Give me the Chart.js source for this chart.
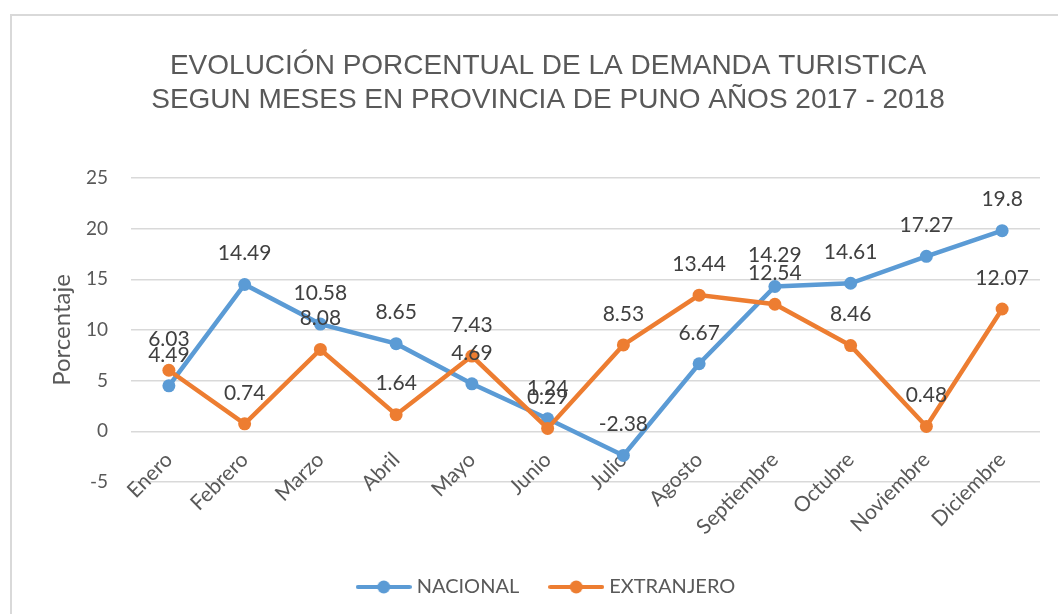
<!DOCTYPE html>
<html>
<head>
<meta charset="utf-8">
<script src="https://cdn.jsdelivr.net/npm/chart.js@4"></script>
<style>
  html, body { margin: 0; padding: 0; background: #fff; overflow: hidden; }
  #frame { position: absolute; left: 10px; top: 14px; width: 1200px; height: 800px; border: 2px solid #d9d9d9; }
  #wrap  { position: absolute; left: 0; top: 0; width: 1058px; height: 614px; }
</style>
</head>
<body>
<div id="frame"></div>
<div id="wrap"><canvas id="chart"></canvas></div>
<script>
// ── Data ───────────────────────────────────────────────────
const months = ["Enero", "Febrero", "Marzo", "Abril", "Mayo", "Junio", "Julio",
                "Agosto", "Septiembre", "Octubre", "Noviembre", "Diciembre"];
const nacional   = [4.49, 14.49, 10.58, 8.65, 4.69, 1.24, -2.38, 6.67, 14.29, 14.61, 17.27, 19.8];
const extranjero = [6.03, 0.74, 8.08, 1.64, 7.43, 0.29, 8.53, 13.44, 12.54, 8.46, 0.48, 12.07];

const BLUE   = "#5b9bd5";
const ORANGE = "#ed7d31";
const GREY   = "#595959";

// ── Legend marker: line with a dot ─────────────────────────
function legendMark(color) {
    const c = document.createElement("canvas");
    c.width = 56; c.height = 16;
    const g = c.getContext("2d");
    g.strokeStyle = color;
    g.lineWidth = 4;
    g.lineCap = "round";
    g.beginPath(); g.moveTo(2, 8); g.lineTo(54, 8); g.stroke();
    g.fillStyle = color;
    g.beginPath(); g.arc(28, 8, 6.5, 0, Math.PI * 2); g.fill();
    return c;
}
const marks = [legendMark(BLUE), legendMark(ORANGE)];

// ── Value labels above points ──────────────────────────────
const valueLabels = {
    id: "valueLabels",
    afterDatasetsDraw(chart) {
        const ctx = chart.ctx;
        ctx.save();
        ctx.font = "21px Lato";
        ctx.fillStyle = "#404040";
        ctx.textAlign = "center";
        ctx.textBaseline = "middle";
        chart.data.datasets.forEach((ds, i) => {
            chart.getDatasetMeta(i).data.forEach((pt, j) => {
                ctx.fillText(String(ds.data[j]), pt.x, pt.y - 31);
            });
        });
        ctx.restore();
    },
};

function series(label, data, color, order) {
    return {
        label, data, order,
        borderColor: color,
        backgroundColor: color,
        borderWidth: 4.5,
        tension: 0,
        pointRadius: 6.5,
        pointHoverRadius: 6.5,
        pointBorderWidth: 0,
        pointBackgroundColor: color,
    };
}

new Chart(document.getElementById("chart"), {
    type: "line",
    data: {
        labels: months,
        datasets: [
            series("NACIONAL", nacional, BLUE, 1),
            series("EXTRANJERO", extranjero, ORANGE, 0),
        ],
    },
    options: {
        responsive: true,
        maintainAspectRatio: false,
        animation: false,
        layout: { padding: { left: 56, right: 18, top: 0, bottom: 7 } },
        plugins: {
            title: {
                display: true,
                text: ["EVOLUCIÓN PORCENTUAL DE LA DEMANDA TURISTICA",
                       "SEGUN MESES EN PROVINCIA DE PUNO AÑOS 2017 - 2018"],
                color: GREY,
                font: { family: "'Liberation Sans', Arial", size: 28, weight: "normal", lineHeight: 1.214 },
                padding: { top: 49, bottom: 61 },
            },
            legend: {
                position: "bottom",
                labels: {
                    usePointStyle: true,
                    pointStyleWidth: 46,
                    padding: 34,
                    color: GREY,
                    font: { family: "Lato", size: 20 },
                    generateLabels: (chart) => chart.data.datasets.map((ds, i) => ({
                        text: ds.label,
                        pointStyle: marks[i],
                        fillStyle: ds.borderColor,
                        strokeStyle: ds.borderColor,
                        lineWidth: 0,
                        hidden: false,
                        datasetIndex: i,
                        fontColor: GREY,
                    })),
                },
            },
            tooltip: { enabled: false },
        },
        scales: {
            // category axis hangs from the zero line, like the original
            x: {
                position: { y: 0 },
                offset: true,
                grid: { display: false, drawTicks: false },
                border: { display: false },
                ticks: {
                    color: GREY,
                    font: { family: "Lato", size: 21 },
                    minRotation: 45,
                    maxRotation: 45,
                    padding: 16,
                    autoSkip: false,
                },
            },
            // empty spacer that keeps room for the labels above the legend
            xpad: {
                type: "category",
                position: "bottom",
                grid: { display: false, drawTicks: false },
                border: { display: false },
                ticks: { display: false },
                afterFit: (scale) => { scale.height = 61; },
            },
            y: {
                min: -5,
                max: 25,
                grid: { color: "#d9d9d9", lineWidth: 1.5, drawTicks: false },
                border: { display: false },
                ticks: {
                    stepSize: 5,
                    color: GREY,
                    font: { family: "Lato", size: 19 },
                    padding: 23,
                },
                title: {
                    display: true,
                    text: "Porcentaje",
                    color: GREY,
                    font: { family: "Lato", size: 24, lineHeight: 1 },
                    padding: { top: -6, bottom: 0 },
                },
                afterFit: (scale) => { scale.width = 75; },
            },
        },
    },
    plugins: [valueLabels],
});
</script>
</body>
</html>
